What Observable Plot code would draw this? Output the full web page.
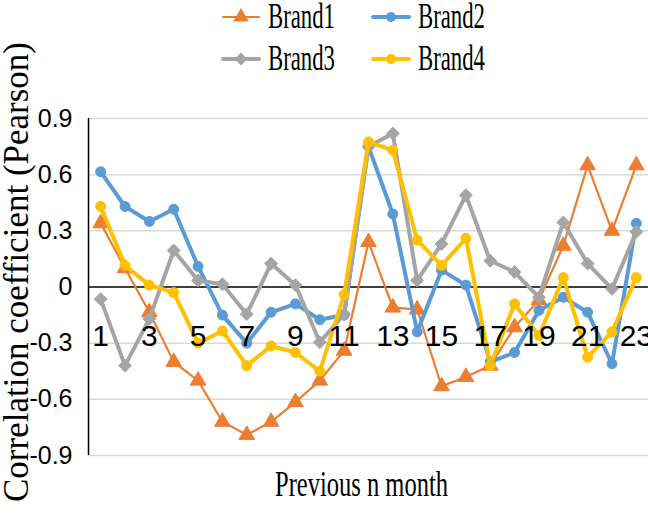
<!DOCTYPE html>
<html>
<head>
<meta charset="utf-8">
<script src="https://cdn.jsdelivr.net/npm/d3@7"></script>
<script src="https://cdn.jsdelivr.net/npm/@observablehq/plot@0.6"></script>
<style>
  html, body { margin: 0; padding: 0; background: white; }
  #wrap { position: relative; width: 648px; height: 524px; overflow: hidden; }
  .leg { position: absolute; display: flex; align-items: center; height: 34px; line-height: 34px; font-family: "Liberation Serif", "Times New Roman", serif; font-size: 35px; color: #000; white-space: nowrap; }
  .leg span { display: inline-block; transform: scaleX(0.65); transform-origin: left center; margin-left: 8px; width: 110px; }
</style>
</head>
<body>
<div id="wrap"></div>
<script>
const months = [1,2,3,4,5,6,7,8,9,10,11,12,13,14,15,16,17,18,19,20,21,22,23];
const monthLabels = [1,3,5,7,9,11,13,15,17,19,21,23];
const yTicks = [-0.9,-0.6,-0.3,0,0.3,0.6,0.9];
const brandNames = ["Brand1","Brand2","Brand3","Brand4"];
const brandColors = ["#ED7D31","#5B9BD5","#A5A5A5","#FFC000"];
const brand1 = [0.34,0.10,-0.135,-0.40,-0.50,-0.72,-0.79,-0.72,-0.615,-0.50,-0.34,0.24,-0.11,-0.12,-0.53,-0.48,-0.42,-0.215,-0.07,0.22,0.65,0.30,0.65];
const brand2 = [0.615,0.43,0.35,0.415,0.11,-0.15,-0.30,-0.135,-0.09,-0.175,-0.15,0.75,0.39,-0.24,0.09,0.01,-0.40,-0.35,-0.125,-0.055,-0.135,-0.41,0.34];
const brand3 = [-0.065,-0.42,-0.17,0.195,0.035,0.015,-0.145,0.125,0.01,-0.295,-0.145,0.75,0.82,0.035,0.23,0.49,0.14,0.08,-0.055,0.345,0.125,-0.01,0.295];
const brand4 = [0.43,0.115,0.01,-0.03,-0.30,-0.235,-0.42,-0.315,-0.35,-0.45,-0.04,0.775,0.73,0.25,0.115,0.26,-0.42,-0.09,-0.26,0.05,-0.375,-0.24,0.05];

const series = [brand1, brand2, brand3, brand4];
const symbols = ["triangle","circle","diamond2","circle"];
const radii = [5.8, 5, 5.8, 5];
const widths = [2.2, 4, 4, 4];

const seriesMarks = [];
series.forEach((vals, i) => {
  const data = months.map((m, j) => ({month: m, value: vals[j]}));
  seriesMarks.push(Plot.line(data, {x: "month", y: "value", stroke: brandColors[i], strokeWidth: widths[i], strokeLinejoin: "round", strokeLinecap: "round"}));
  seriesMarks.push(Plot.dot(data, {x: "month", y: "value", symbol: symbols[i], r: radii[i], fill: brandColors[i], stroke: brandColors[i], strokeWidth: 1}));
});

const fmt = d => d === 0 ? "0" : d.toFixed(1);

const chart = Plot.plot({
  width: 648,
  height: 524,
  marginLeft: 88,
  marginRight: 0,
  marginTop: 118,
  marginBottom: 69,
  style: {fontFamily: "'Liberation Sans Narrow', 'Liberation Sans', sans-serif", fontSize: "25px", background: "white", overflow: "visible"},
  x: {domain: [0.5, 23.5], axis: null},
  y: {domain: [-0.9, 0.9], axis: null},
  marks: [
    Plot.ruleY(yTicks.filter(d => d !== 0), {stroke: "#D9D9D9", strokeWidth: 1.5}),
    Plot.ruleY([0], {stroke: "#000", strokeWidth: 1.5}),
    Plot.ruleX([0.5], {y1: -0.9, y2: 0.9, stroke: "#000", strokeWidth: 1.5}),
    Plot.axisY(yTicks, {tickSize: 0, tickPadding: 16, tickFormat: fmt, fontSize: 25, label: null}),
    ...seriesMarks,
    Plot.text(monthLabels, {x: d => d, y: () => 0, text: d => String(d), dy: 49, fontSize: 30, fill: "#000"}),
    Plot.text(["Previous n month"], {frameAnchor: "bottom", text: d => d, dy: 40, dx: -7, fontSize: 35, fontFamily: "'Liberation Serif', serif", fill: "#000"}),
    Plot.text(["Correlation coefficient (Pearson)"], {frameAnchor: "left", textAnchor: "middle", text: d => d, rotate: -90, dx: -72, dy: -15, fontSize: 35, fontFamily: "'Liberation Serif', serif", fill: "#000"})
  ]
});

const wrap = document.getElementById("wrap");
wrap.appendChild(chart);

// horizontal compression of some texts to mimic the reference
chart.querySelectorAll("text").forEach(t => {
  const s = t.textContent;
  let f = null;
  if (s === "Previous n month") f = 0.70;
  else if (monthLabels.map(String).includes(s) && t.getAttribute("font-size") === "30") f = s === "23" ? 0.78 : 0.82;
  if (f) {
    const L = t.getComputedTextLength();
    t.setAttribute("textLength", (L * f).toFixed(1));
    t.setAttribute("lengthAdjust", "spacingAndGlyphs");
  }
});

// legend
const legPos = [[222, 17], [372, 17], [222, 59], [372, 59]];
brandNames.forEach((name, i) => {
  const div = document.createElement("div");
  div.className = "leg";
  div.style.left = legPos[i][0] + "px";
  div.style.top = (legPos[i][1] - 17) + "px";
  const sw = d3.create("svg").attr("width", 38).attr("height", 20).style("overflow", "visible");
  sw.append("line").attr("x1", 1).attr("x2", 37).attr("y1", 10).attr("y2", 10)
    .attr("stroke", brandColors[i]).attr("stroke-width", widths[i]).attr("stroke-linecap", "round");
  sw.append("path").attr("d", d3.symbol(i === 0 ? d3.symbolTriangle : i === 2 ? d3.symbolDiamond2 : d3.symbolCircle, i === 1 || i === 3 ? Math.PI * 25 : Math.PI * radii[i] * radii[i])())
    .attr("transform", "translate(19,10)").attr("fill", brandColors[i]);
  div.appendChild(sw.node());
  const span = document.createElement("span");
  span.textContent = name;
  div.appendChild(span);
  wrap.appendChild(div);
});
</script>
</body>
</html>
